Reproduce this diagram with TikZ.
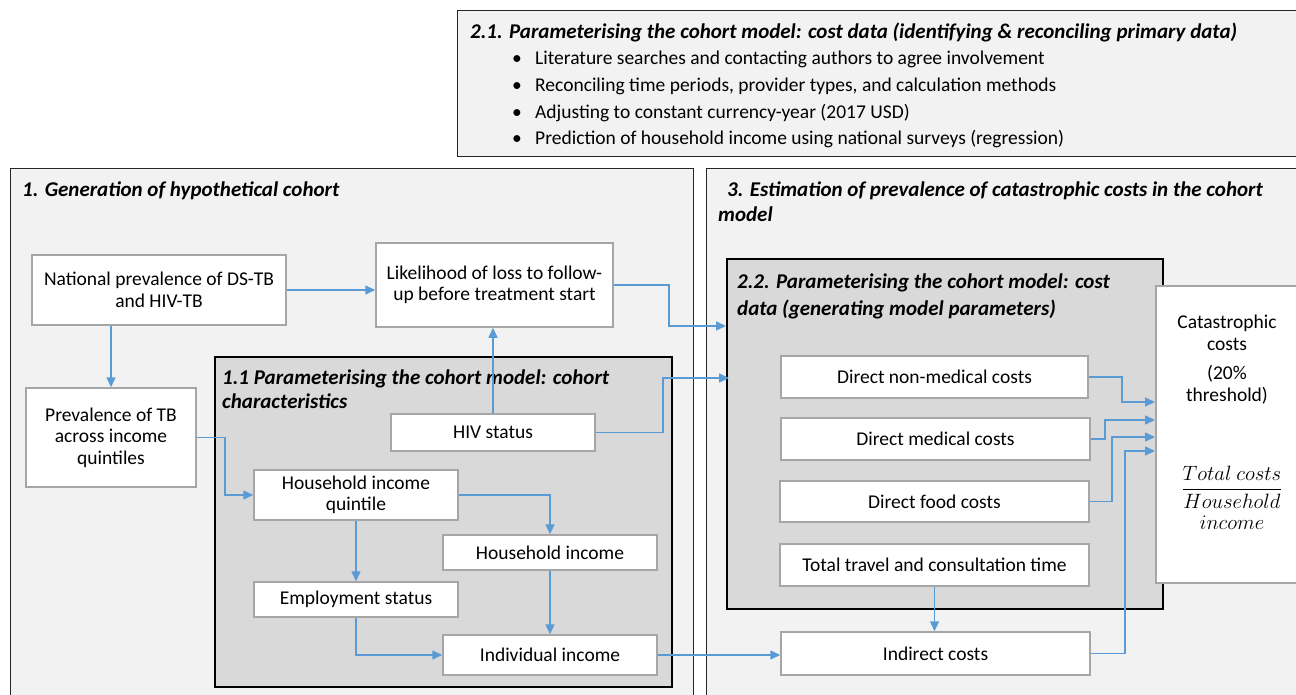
\documentclass[tikz,border=0pt]{standalone}
\usepackage{amsmath}
\usepackage{fontspec}
\setmainfont{Carlito}
\usetikzlibrary{arrows.meta,calc}
\definecolor{panelbg}{HTML}{F2F2F2}
\definecolor{innerbg}{HTML}{D9D9D9}
\definecolor{boxline}{HTML}{A6A6A6}
\definecolor{arrowblue}{HTML}{5B9BD5}
\definecolor{outerline}{HTML}{262626}
\newcommand\bodyfs{\fontsize{19.5}{21.5}\selectfont}
\newcommand\titlefs{\fontsize{21}{25}\selectfont\bfseries\itshape}
\begin{document}
\begin{tikzpicture}[x=1pt,y=-1pt,
  panel/.style={draw=outerline, fill=panelbg, line width=1.2pt, anchor=north west, inner sep=0pt},
  innerpanel/.style={draw=black, fill=innerbg, line width=1.8pt, anchor=north west, inner sep=0pt},
  box/.style={draw=boxline, fill=white, line width=1.5pt, align=center, inner sep=2pt, font=\bodyfs},
  ttl/.style={anchor=base west, inner sep=0pt, font=\titlefs, align=left},
  txt/.style={anchor=base west, inner sep=0pt, font=\bodyfs},
  conn/.style={draw=arrowblue, line width=1.5pt, -{Triangle[length=10pt,width=9pt]}}
]
\useasboundingbox (0,0) rectangle (1296,695);
\fill[white] (0,0) rectangle (1296,695);

% top box 2.1
\node[panel, minimum width=842pt, minimum height=146pt] (p21) at (457,10) {};
\node[ttl] (t21) at (470,39) {2.1. Parameterising the cohort model: cost data (identifying \& reconciling primary data)};
\node[txt] (b1) at (512,65) {•};
\node[txt] (l1) at (535,65) {Literature searches and contacting authors to agree involvement};
\node[txt] (b2) at (512,92) {•};
\node[txt] (l2) at (535,92) {Reconciling time periods, provider types, and calculation methods};
\node[txt] (b3) at (512,119) {•};
\node[txt] (l3) at (535,119) {Adjusting to constant currency-year (2017 USD)};
\node[txt] (b4) at (512,145) {•};
\node[txt] (l4) at (535,145) {Prediction of household income using national surveys (regression)};

% panel 1
\node[panel, minimum width=683pt, minimum height=540pt] (p1) at (10,168) {};
\node[ttl] (t1) at (22,197) {1. Generation of hypothetical cohort};

% panel 3
\node[panel, minimum width=600pt, minimum height=540pt] (p3) at (706,168) {};
\node[ttl, anchor=north west] (t3) at (718,182) {\hspace{9pt}3. Estimation of prevalence of catastrophic costs in the cohort\\model};

% panel 1.1
\node[innerpanel, minimum width=457pt, minimum height=330pt] (p11) at (214,356) {};
\node[ttl, anchor=north west, font=\fontsize{21}{23.5}\selectfont\bfseries\itshape] (t11) at (222,370) {1.1 Parameterising the cohort model: cohort\\characteristics};

% panel 2.2
\node[innerpanel, minimum width=436pt, minimum height=350pt] (p22) at (726,258) {};
\node[ttl, anchor=north west, font=\fontsize{21}{27}\selectfont\bfseries\itshape] (t22) at (737,274) {2.2. Parameterising the cohort model: cost\\data (generating model parameters)};

% boxes panel 1
\node[box, minimum width=254pt, minimum height=70pt] (nat) at (159,290) {National prevalence of DS-TB\\and HIV-TB};
\node[box, minimum width=237pt, minimum height=84pt] (like) at (494.5,285) {Likelihood of loss to follow-\\up before treatment start};
\node[box, minimum width=170pt, minimum height=99pt] (prev) at (111,437.5) {Prevalence of TB\\across income\\quintiles};
\node[box, minimum width=204pt, minimum height=37pt] (hiv) at (493,432.5) {HIV status};
\node[box, minimum width=204pt, minimum height=50pt] (hiq) at (356,495) {Household income\\quintile};
\node[box, minimum width=214pt, minimum height=35pt] (hi) at (550,552.5) {Household income};
\node[box, minimum width=204pt, minimum height=35pt] (emp) at (356,599.5) {Employment status};
\node[box, minimum width=214pt, minimum height=40pt] (ind) at (550,655) {Individual income};

% boxes panel 3
\node[box, minimum width=307pt, minimum height=42pt] (dnm) at (934.5,377) {Direct non-medical costs};
\node[box, minimum width=309pt, minimum height=42pt] (dm) at (935.5,439) {Direct medical costs};
\node[box, minimum width=309pt, minimum height=41pt] (df) at (934.5,501.5) {Direct food costs};
\node[box, minimum width=309pt, minimum height=42pt] (tt) at (934.5,565) {Total travel and consultation time};
\node[box, minimum width=309pt, minimum height=43pt] (ic) at (935.5,653.5) {Indirect costs};
\node[box, anchor=north west, minimum width=144pt, minimum height=297pt] (cat) at (1155,285) {};
\node[txt, anchor=north, align=center] (cattxt) at (1227,315) {Catastrophic\\costs\\[8pt](20\%\\threshold)};
\node[inner sep=0pt, font=\fontsize{21.5}{23}\selectfont] (frac) at (1232,501) {$\dfrac{Total\ costs}{\begin{array}{@{}c@{}}Household\\[-2pt] income\end{array}}$};

% connectors
\draw[conn] (nat.east) -- (nat.east -| like.west);
\draw[conn] (prev.north |- nat.south) -- (prev.north);
\draw[conn] (prev.east) -- ++(28,0) |- (hiq.west);
\draw[conn] (hiq.east) -| (hi.north);
\draw[conn] (hiq.south) -- (emp.north);
\draw[conn] (hi.south) -- (ind.north);
\draw[conn] (emp.south) |- (ind.west);
\draw[conn] (hiv.north) -- (hiv.north |- like.south);
\coordinate (inA) at ($(p22.north west)+(0,68)$);
\coordinate (inB) at ($(p22.north west)+(3,120)$);
\draw[conn] (like.east) -- ++(55,0) |- (inA);
\draw[conn] (hiv.east) -- ++(67,0) |- (inB);
\draw[conn] (ind.east) -- (ind.east -| ic.west);
\draw[conn] (tt.south) -- (tt.south |- ic.north);
\coordinate (c1) at ($(cat.north west)+(0,117)$);
\coordinate (c2) at ($(cat.north west)+(0,135)$);
\coordinate (c3) at ($(cat.north west)+(0,152)$);
\coordinate (c4) at ($(cat.north west)+(0,166)$);
\draw[conn] (dnm.east) -- ++(33,0) |- (c1);
\draw[conn] (dm.east) -- ++(14,0) |- (c2);
\draw[conn] (df.east) -- ++(22,0) |- (c3);
\draw[conn] (ic.east) -- ++(34,0) |- (c4);
\end{tikzpicture}
\end{document}
